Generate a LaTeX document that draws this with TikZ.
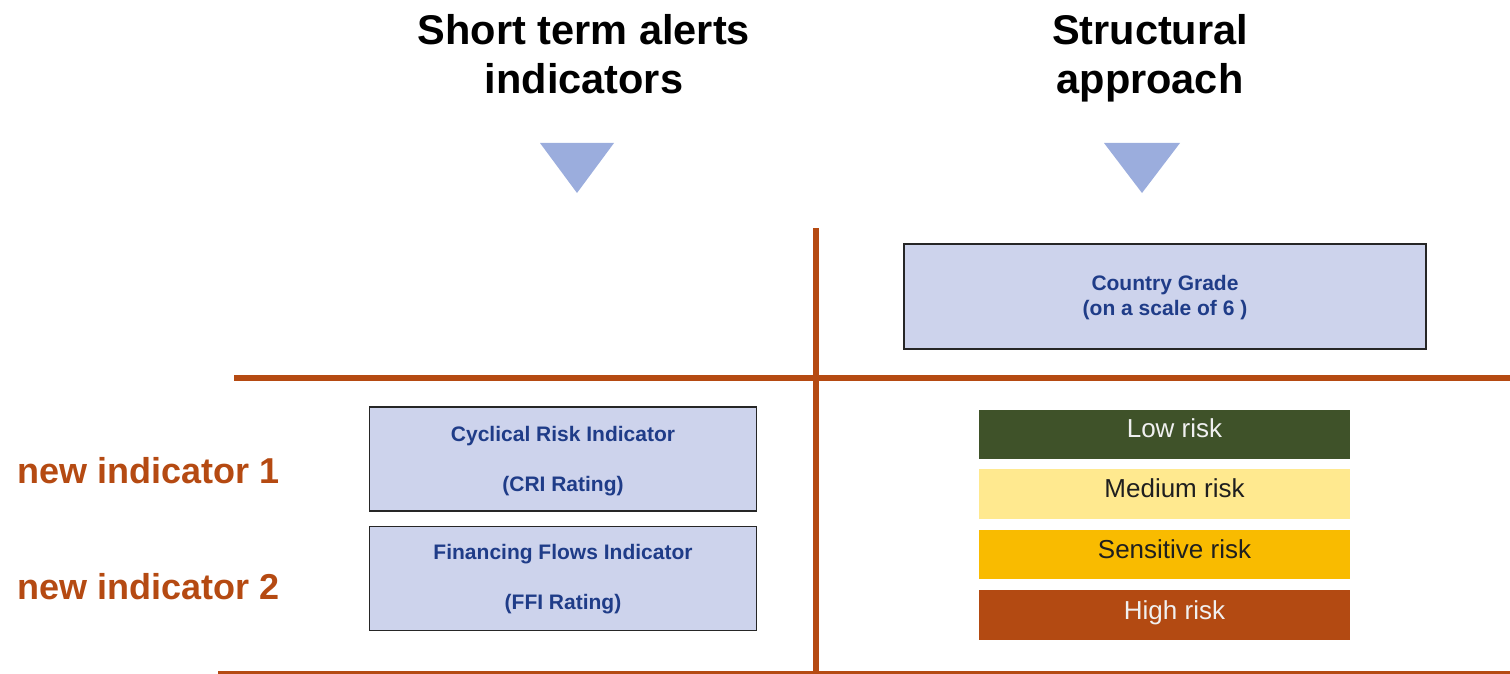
\documentclass[tikz,border=0pt]{standalone}
\usepackage{fontspec}
\setmainfont{Liberation Sans}
\usetikzlibrary{calc}

\definecolor{rust}{HTML}{B54A12}
\definecolor{boxfill}{HTML}{CDD3EC}
\definecolor{navy}{HTML}{1F3C88}
\definecolor{tri}{HTML}{9BADDD}
\definecolor{lowc}{HTML}{3F5229}
\definecolor{medc}{HTML}{FFE98F}
\definecolor{senc}{HTML}{F9BB00}
\definecolor{highc}{HTML}{B34A12}

\begin{document}
\begin{tikzpicture}[x=1pt,y=-1pt,
  title/.style={anchor=north, inner sep=0pt, align=center,
    font=\bfseries\fontsize{41.5}{49}\selectfont},
  sidelabel/.style={anchor=base west, inner sep=0pt, text=rust,
    font=\bfseries\fontsize{36}{40}\selectfont},
  infobox/.style={draw=black!85, line width=1.4pt, fill=boxfill,
    inner sep=0pt, minimum width=387pt, minimum height=104pt},
  infotext/.style={text=navy, inner sep=0pt, align=center,
    font=\bfseries\fontsize{21}{50}\selectfont},
  riskbar/.style={draw=none, inner sep=0pt, minimum width=371pt, minimum height=49.5pt},
  risktext/.style={anchor=base, inner sep=0pt, font=\fontsize{26}{30}\selectfont},
  divider/.style={draw=rust, line width=6pt},
  arrowhead/.style={fill=tri, draw=none}
]
\useasboundingbox (0,0) rectangle (1510,674);

% column headings
\node[title] (shortterm) at (584,14) {Short term alerts\\indicators};
\node[title] (structural) at (1150,14) {Structural\\approach};

% downward markers under the headings
\path[arrowhead] (540,143) -- (614,143) -- (577,193) -- cycle;
\path[arrowhead] (1104,143) -- (1180,143) -- (1142,193) -- cycle;

% grid lines
\coordinate (vtop) at (815.5,228);
\coordinate (vbot) at (815.5,674);
\coordinate (hleft) at (234,378);
\coordinate (hright) at (1510,378);
\coordinate (bleft) at (218,672.5);
\coordinate (bright) at (1510,672.5);
\draw[divider] (vtop) -- (vbot);
\draw[divider] (hleft) -- (hright);
\draw[draw=rust, line width=2.5pt] (bleft) -- (bright);

% structural grade
\node[infobox, minimum width=522pt, minimum height=105pt] (grade) at (1165,296.5) {};
\node[infotext, font=\bfseries\fontsize{21}{25}\selectfont] (gradet)
  at ($(grade.center)+(0,1.5)$) {Country Grade\\(on a scale of 6 )};

% short term indicators
\node[infobox] (cri) at (563,459) {};
\node[infotext] (crit) at ($(cri.center)+(0,2.5)$) {Cyclical Risk Indicator\\(CRI Rating)};
\node[infobox] (ffi) at (563,578.5) {};
\node[infotext] (ffit) at ($(ffi.center)+(0,0.5)$) {Financing Flows Indicator\\(FFI Rating)};

\node[sidelabel] (new1) at (17,483) {new indicator 1};
\node[sidelabel] (new2) at (17,599) {new indicator 2};

% risk scale
\node[riskbar, fill=lowc]  (low)  at (1164.5,434.3) {};
\node[riskbar, fill=medc]  (med)  at (1164.5,494.0) {};
\node[riskbar, fill=senc]  (sen)  at (1164.5,554.7) {};
\node[riskbar, fill=highc] (high) at (1164.5,615.2) {};

\node[risktext, text=white!94!black] (lowt)  at ($(low.center)+(10,3.5)$)  {Low risk};
\node[risktext, text=black!88]       (medt)  at ($(med.center)+(10,3.5)$)  {Medium risk};
\node[risktext, text=black!88]       (sent)  at ($(sen.center)+(10,3.5)$)  {Sensitive risk};
\node[risktext, text=white!94!black] (hight) at ($(high.center)+(10,4.5)$) {High risk};
\end{tikzpicture}
\end{document}
